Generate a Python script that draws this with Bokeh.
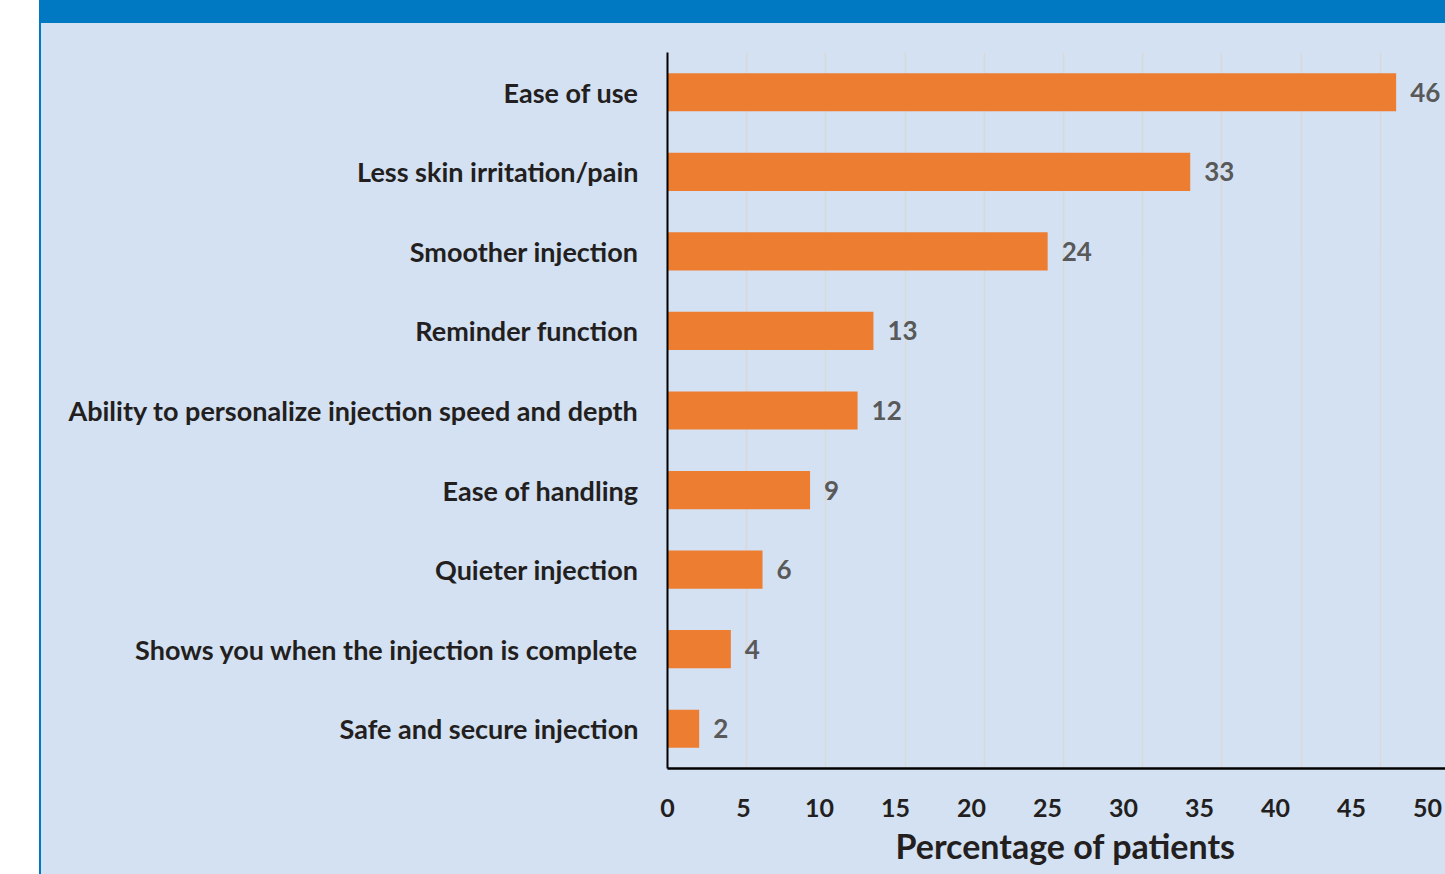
from bokeh.plotting import figure
from bokeh.models import (FactorRange, Range1d, LinearAxis, FixedTicker, Grid,
                          ColumnDataSource, LabelSet, Title)
from bokeh.embed import file_html
from bokeh.resources import INLINE
from bokeh.core.properties import value

categories = ["Ease of use", "Less skin irritation/pain", "Smoother injection",
              "Reminder function", "Ability to personalize injection speed and depth",
              "Ease of handling", "Quieter injection",
              "Shows you when the injection is complete", "Safe and secure injection"]
percentages = [46, 33, 24, 13, 12, 9, 6, 4, 2]
tick_values = [0, 5, 10, 15, 20, 25, 30, 35, 40, 45, 50]
x_title = "Percentage of patients"

BG = "#D4E1F2"
BLUE = "#0079C2"
ORANGE = "#ED7D31"
DARK = "#231F20"
FONT = "Lato"

W, H = 1445, 874
FRAME_L, FRAME_T, FRAME_B = 667, 52, 106
FRAME_W = W - FRAME_L

source = ColumnDataSource(dict(cat=categories, pct=percentages,
                               txt=[str(v) for v in percentages]))

page_bg = (
    f"linear-gradient({BLUE}, {BLUE}) 39px 0 / 2px 100% no-repeat, "
    f"linear-gradient({BLUE}, {BLUE}) 41px 0 / calc(100% - 41px) 23px no-repeat, "
    "linear-gradient(#FFFFFF, #FFFFFF) 0 0 / 39px 100% no-repeat, "
    f"{BG}"
)

p = figure(width=W, height=H, output_backend="svg", toolbar_location=None,
           y_range=FactorRange(factors=list(reversed(categories)), range_padding=0),
           x_range=Range1d(0, FRAME_W / 15.84), x_axis_location=None,
           min_border_left=FRAME_L, min_border_top=FRAME_T,
           min_border_bottom=FRAME_B, min_border_right=0,
           styles={"background": page_bg})
p.extra_x_ranges = {"lbl": Range1d(0, FRAME_W / 15.2)}

p.background_fill_color = BG
p.border_fill_color = None
p.outline_line_color = None
p.ygrid.visible = False

grid = Grid(dimension=0, ticker=FixedTicker(ticks=tick_values),
            grid_line_color="#D9D9D9", grid_line_width=1.5)
p.add_layout(grid, "center")

p.hbar(y="cat", left=0, right="pct", height=0.48, source=source,
       fill_color=ORANGE, line_color=None)

labels = LabelSet(x="pct", y="cat", text="txt", source=source, x_offset=14,
                  text_baseline="middle", text_align="left",
                  text_font=value(FONT), text_font_style="bold",
                  text_font_size="26px", text_color="#595959")
p.add_layout(labels)

ya = p.yaxis[0]
ya.major_tick_line_color = None
ya.minor_tick_line_color = None
ya.major_tick_out = 0
ya.major_tick_in = 0
ya.axis_line_color = "black"
ya.axis_line_width = 2
ya.major_label_standoff = 29
ya.major_label_text_font = FONT
ya.major_label_text_font_style = "bold"
ya.major_label_text_font_size = "27px"
ya.major_label_text_color = DARK

xa = LinearAxis(x_range_name="lbl", ticker=FixedTicker(ticks=tick_values))
xa.major_tick_line_color = None
xa.minor_tick_line_color = None
xa.major_tick_out = 0
xa.major_tick_in = 0
xa.axis_line_color = "black"
xa.axis_line_width = 2.5
xa.major_label_standoff = 30
xa.major_label_text_font = FONT
xa.major_label_text_font_style = "bold"
xa.major_label_text_font_size = "25px"
xa.major_label_text_color = DARK
p.add_layout(xa, "below")

xt = Title(text=x_title, align="left", offset=228, standoff=6,
           text_font=FONT, text_font_style="bold", text_font_size="34px",
           text_color=DARK)
p.add_layout(xt, "below")

open("out.html", "w").write(file_html(p, INLINE))
